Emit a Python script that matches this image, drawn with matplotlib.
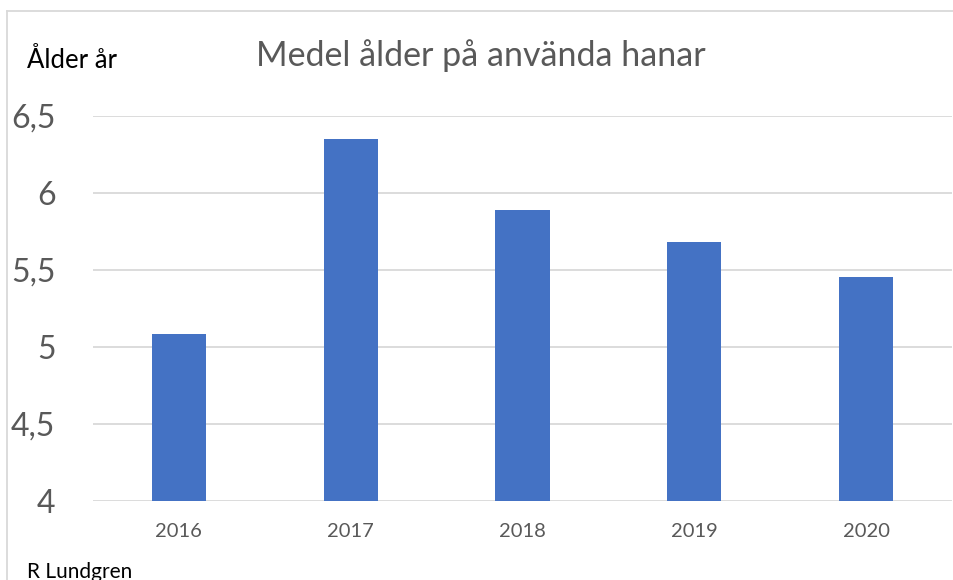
import numpy as np
import matplotlib.pyplot as plt
from matplotlib.lines import Line2D

plt.rcParams['font.family'] = ['Lato', 'DejaVu Sans']

# data
years = ['2016', '2017', '2018', '2019', '2020']
medel_alder = [5.08, 6.35, 5.89, 5.68, 5.45]
y_ticks = [4, 4.5, 5, 5.5, 6, 6.5]
y_labels = ['4', '4,5', '5', '5,5', '6', '6,5']

W, H = 954, 580
fig = plt.figure(figsize=(W / 100, H / 100), dpi=100)
ax = fig.add_axes([93 / W, 79.3 / H, 859 / W, 385 / H])

x = np.arange(len(years))
ax.bar(x, medel_alder, width=0.315, color='#4472C4', zorder=3)

ax.set_xlim(-0.5, len(years) - 0.5)
ax.set_ylim(4, 6.5)
ax.set_yticks(y_ticks)
ax.set_yticklabels(y_labels)
ax.set_xticks(x)
ax.set_xticklabels(years)

ax.tick_params(axis='y', length=0, pad=27, labelsize=23, labelcolor='#595959')
ax.tick_params(axis='x', length=0, pad=16, labelsize=14.5, labelcolor='#595959')
ax.grid(axis='y', color='#d9d9d9', linewidth=1.3, zorder=0)
for s in ax.spines.values():
    s.set_visible(False)

# titel och etiketter
fig.text(481 / W, (H - 66) / H, 'Medel ålder på använda hanar', ha='center', va='baseline',
         fontsize=24.5, color='#595959')
fig.text(27 / W, (H - 68) / H, 'Ålder år', ha='left', va='baseline', fontsize=18.5, color='black')
fig.text(27 / W, (H - 577.5) / H, 'R Lundgren', ha='left', va='baseline', fontsize=15, color='black')

# ram runt diagrammet
fig.add_artist(Line2D([7 / W, 1], [(H - 10.5) / H] * 2, transform=fig.transFigure, color='#d9d9d9', lw=1.3))
fig.add_artist(Line2D([7 / W] * 2, [0, (H - 10.5) / H], transform=fig.transFigure, color='#d9d9d9', lw=1.3))

fig.savefig('out.png', dpi=100)
